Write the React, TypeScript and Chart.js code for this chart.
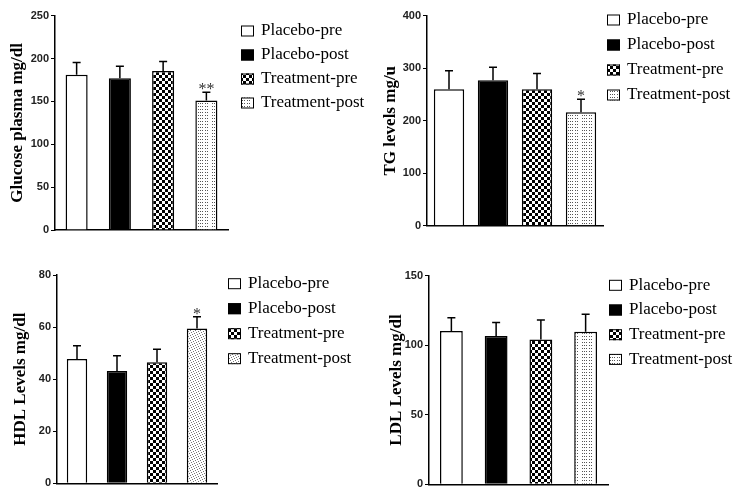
import React, { useEffect, useRef } from 'react';
import { Chart, registerables } from 'chart.js';

Chart.register(...registerables);

// ---------- data ----------
const groups = ['Placebo-pre', 'Placebo-post', 'Treatment-pre', 'Treatment-post'];

const glucoseMean = [181, 177, 185.5, 151];
const glucoseSem = [14.4, 14, 11, 9.7];
const glucoseSig = ['', '', '', '**'];
const glucoseTicks = [0, 50, 100, 150, 200, 250];

const tgMean = [260, 277, 260, 216];
const tgSem = [35, 25, 30, 25];
const tgSig = ['', '', '', '*'];
const tgTicks = [0, 100, 200, 300, 400];

const hdlMean = [47.7, 43.1, 46.5, 59.5];
const hdlSem = [5.1, 5.9, 5.0, 4.5];
const hdlSig = ['', '', '', '*'];
const hdlTicks = [0, 20, 40, 60, 80];

const ldlMean = [110.2, 106.6, 104.2, 109.7];
const ldlSem = [9.6, 9.8, 13.9, 12.5];
const ldlSig = ['', '', '', ''];
const ldlTicks = [0, 50, 100, 150];

// ---------- patterns ----------
function makePattern(w: number, h: number, draw: (g: CanvasRenderingContext2D) => void) {
  const c = document.createElement('canvas');
  c.width = w;
  c.height = h;
  const g = c.getContext('2d')!;
  g.fillStyle = '#ffffff';
  g.fillRect(0, 0, w, h);
  draw(g);
  return g.createPattern(c, 'repeat')!;
}
const checker = () =>
  makePattern(6, 6, (g) => {
    g.fillStyle = '#000';
    g.fillRect(0, 0, 3, 3);
    g.fillRect(3, 3, 3, 3);
  });
const dotted = () =>
  makePattern(14, 3, (g) => {
    g.fillStyle = '#555';
    [2, 4, 6, 9, 11].forEach((x) => g.fillRect(x, 1, 1, 1));
  });
const stipple = () =>
  makePattern(5, 5, (g) => {
    g.fillStyle = '#777';
    [[0, 0], [3, 1], [1, 2], [4, 3], [2, 4]].forEach(([x, y]) => g.fillRect(x, y, 1, 1));
  });

// ---------- plugins ----------
const errorBarPlugin = {
  id: 'errorBars',
  afterDatasetsDraw(chart: any, _args: any, opts: any) {
    const ctx = chart.ctx;
    const yScale = chart.scales.y;
    ctx.save();
    chart.data.datasets.forEach((ds: any, i: number) => {
      const bar = chart.getDatasetMeta(i).data[0];
      if (!bar) return;
      const top = yScale.getPixelForValue(ds.data[0] + opts.sem[i]);
      ctx.strokeStyle = '#000';
      ctx.lineWidth = 1.5;
      ctx.beginPath();
      ctx.moveTo(bar.x, bar.y);
      ctx.lineTo(bar.x, top);
      ctx.moveTo(bar.x - 4, top);
      ctx.lineTo(bar.x + 4, top);
      ctx.stroke();
      const s = opts.sig[i];
      if (s) {
        ctx.fillStyle = '#333';
        ctx.font = '16px "Liberation Serif"';
        ctx.textAlign = 'center';
        ctx.textBaseline = 'alphabetic';
        ctx.fillText(s, bar.x, top + 2);
      }
    });
    ctx.restore();
  },
};

const sideLegendPlugin = {
  id: 'sideLegend',
  afterDraw(chart: any, _args: any, opts: any) {
    const ctx = chart.ctx;
    ctx.save();
    chart.data.datasets.forEach((ds: any, i: number) => {
      const cy = opts.top + i * opts.gap;
      ctx.fillStyle = ds.backgroundColor;
      ctx.fillRect(opts.x, cy - 5.5, 13, 11);
      ctx.strokeStyle = '#000';
      ctx.lineWidth = 1;
      ctx.strokeRect(opts.x + 0.5, cy - 5, 12, 10);
      ctx.fillStyle = '#000';
      ctx.font = '17px "Liberation Serif"';
      ctx.textAlign = 'left';
      ctx.textBaseline = 'middle';
      ctx.fillText(ds.label, opts.x + 20, cy);
    });
    ctx.restore();
  },
};

// ---------- panels ----------
type PanelCfg = {
  x: number; y: number; w: number; h: number;
  left: number; right: number; top: number; bottom: number;
  title: string; titlePad: number;
  mean: number[]; sem: number[]; sig: string[]; ticks: number[];
  barPct: number; post: 'dotted' | 'stipple';
  legendX: number; legendTop: number; legendGap: number;
};

const panels: PanelCfg[] = [
  {
    x: 0, y: 0, w: 370, h: 245, left: 55, right: 228, top: 15.7, bottom: 230,
    title: 'Glucose plasma mg/dl', titlePad: 9,
    mean: glucoseMean, sem: glucoseSem, sig: glucoseSig, ticks: glucoseTicks,
    barPct: 0.51, post: 'dotted', legendX: 241, legendTop: 31, legendGap: 24,
  },
  {
    x: 370, y: 0, w: 363, h: 245, left: 57, right: 233, top: 15.7, bottom: 225.7,
    title: 'TG levels mg/u', titlePad: 12.5,
    mean: tgMean, sem: tgSem, sig: tgSig, ticks: tgTicks,
    barPct: 0.69, post: 'dotted', legendX: 237, legendTop: 20, legendGap: 25,
  },
  {
    x: 0, y: 245, w: 370, h: 250, left: 57, right: 217, top: 30, bottom: 238.3,
    title: 'HDL Levels mg/dl', titlePad: 12.5,
    mean: hdlMean, sem: hdlSem, sig: hdlSig, ticks: hdlTicks,
    barPct: 0.51, post: 'stipple', legendX: 228, legendTop: 38.7, legendGap: 25,
  },
  {
    x: 370, y: 245, w: 363, h: 250, left: 59, right: 238, top: 30.7, bottom: 239.3,
    title: 'LDL Levels mg/dl', titlePad: 18.5,
    mean: ldlMean, sem: ldlSem, sig: ldlSig, ticks: ldlTicks,
    barPct: 0.51, post: 'dotted', legendX: 239, legendTop: 40.3, legendGap: 24.7,
  },
];

function Panel({ cfg }: { cfg: PanelCfg }) {
  const ref = useRef<HTMLCanvasElement | null>(null);
  useEffect(() => {
    if (!ref.current) return;
    const fills: any[] = ['#ffffff', '#000000', checker(), cfg.post === 'stipple' ? stipple() : dotted()];
    const t = cfg.ticks;
    const chart = new Chart(ref.current, {
      type: 'bar',
      data: {
        labels: [''],
        datasets: groups.map((g, i) => ({
          label: g,
          data: [cfg.mean[i]],
          backgroundColor: fills[i],
          borderColor: '#000',
          borderWidth: 1.5,
          barPercentage: cfg.barPct,
          categoryPercentage: 1,
        })),
      },
      options: {
        responsive: false,
        animation: false,
        devicePixelRatio: 1,
        layout: {
          padding: { left: 0, top: cfg.top, right: cfg.w - cfg.right, bottom: cfg.h - cfg.bottom },
        },
        plugins: {
          legend: { display: false },
          tooltip: { enabled: false },
          errorBars: { sem: cfg.sem, sig: cfg.sig },
          sideLegend: { x: cfg.legendX, top: cfg.legendTop, gap: cfg.legendGap },
        } as any,
        scales: {
          x: {
            grid: { display: false, drawTicks: false },
            ticks: { display: false },
            border: { display: true, color: '#000', width: 1.5 },
          },
          y: {
            min: t[0],
            max: t[t.length - 1],
            afterFit: (s: any) => {
              s.width = cfg.left;
            },
            ticks: {
              stepSize: t[1] - t[0],
              font: { family: '"Liberation Sans", Arial, sans-serif', size: 11, weight: 'bold' },
              color: '#222',
              padding: 2,
            },
            grid: { display: true, drawOnChartArea: false, drawTicks: true, tickLength: 4, color: '#000', lineWidth: 1 },
            border: { display: true, color: '#000', width: 1.5 },
            title: {
              display: true,
              text: cfg.title,
              color: '#000',
              font: { family: '"Liberation Serif", serif', size: 17, weight: 'bold', lineHeight: 1 },
              padding: { top: cfg.titlePad, bottom: 0 },
            },
          },
        },
      } as any,
      plugins: [errorBarPlugin, sideLegendPlugin],
    });
    return () => chart.destroy();
  }, []);
  return (
    <canvas
      ref={ref}
      width={cfg.w}
      height={cfg.h}
      style={{ position: 'absolute', left: cfg.x, top: cfg.y, width: cfg.w, height: cfg.h }}
    />
  );
}

export default function App() {
  return (
    <div style={{ position: 'absolute', left: 0, top: 0, width: 733, height: 495, background: '#fff', overflow: 'hidden' }}>
      {panels.map((p, i) => (
        <Panel key={i} cfg={p} />
      ))}
    </div>
  );
}
